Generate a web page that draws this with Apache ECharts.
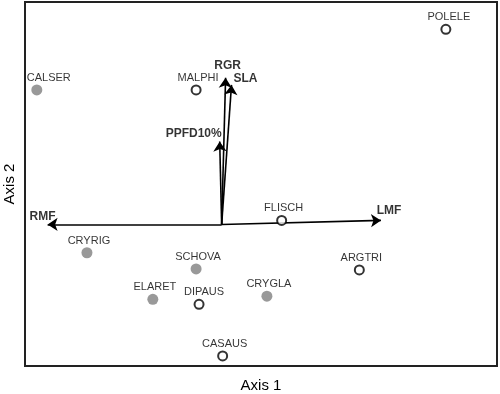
<!DOCTYPE html>
<html>
<head>
<meta charset="utf-8">
<script src="https://cdn.jsdelivr.net/npm/echarts@6/dist/echarts.min.js"></script>
<style>
  html, body { margin: 0; padding: 0; background: #fff; }
  #chart { width: 500px; height: 394px; }
</style>
</head>
<body>
<div id="chart"></div>
<script>
// species scores (axis 1, axis 2)
var filledNames = ['CALSER', 'CRYRIG', 'SCHOVA', 'ELARET', 'CRYGLA'];
var filledX = [-1.88, -1.37, -0.26, -0.70, 0.46];
var filledY = [1.33, -0.28, -0.44, -0.74, -0.71];

var openNames = ['POLELE', 'MALPHI', 'FLISCH', 'ARGTRI', 'DIPAUS', 'CASAUS'];
var openX = [2.28, -0.26, 0.61, 1.40, -0.23, 0.01];
var openY = [1.93, 1.33, 0.04, -0.45, -0.79, -1.30];

// trait vectors
var vectorNames = ['RGR', 'SLA', 'PPFD10%', 'RMF', 'LMF'];
var vectorX = [0.04, 0.10, -0.02, -1.77, 1.62];
var vectorY = [1.45, 1.38, 0.82, 0.00, 0.04];

var EnergyBiplot = function () {
    var txt = '#000';
    var fnt = '"Liberation Sans", Arial, Helvetica, sans-serif';

    // small nudges for some species labels
    var labelNudge = { CALSER: 12, DIPAUS: 5, POLELE: 3 };
    // where the vector labels sit
    var vecLabel = {
        'RGR': { position: 'top', distance: 6, offset: [2, 0] },
        'SLA': { position: 'right', distance: 2, offset: [0, -6] },
        'PPFD10%': { position: 'left', distance: 0, offset: [2, -8] },
        'RMF': { position: 'top', distance: 2, offset: [-5, 0] },
        'LMF': { position: 'top', distance: 4, offset: [8, 0] }
    };

    var makePoints = function (names, xs, ys) {
        var out = [];
        for (var i = 0; i < names.length; i++) {
            out.push({
                name: names[i],
                value: [xs[i], ys[i]],
                label: { offset: [labelNudge[names[i]] || 2, 0] }
            });
        }
        return out;
    };

    var _draw = function () {
        var dom = document.getElementById('chart');
        var chart = echarts.init(dom, null, { renderer: 'canvas' });

        var arrows = [];
        var tips = [];
        for (var i = 0; i < vectorNames.length; i++) {
            arrows.push({ coords: [[0, 0], [vectorX[i], vectorY[i]]] });
            var l = vecLabel[vectorNames[i]];
            tips.push({
                name: vectorNames[i],
                value: [vectorX[i], vectorY[i]],
                label: { position: l.position, distance: l.distance, offset: l.offset }
            });
        }

        var ptLabel = {
            show: true,
            position: 'top',
            distance: 1,
            formatter: '{b}',
            color: '#000',
            fontSize: 11,
            fontFamily: fnt
        };

        var option = {
            animation: false,
            backgroundColor: '#fff',
            grid: {
                left: 25, right: 3, top: 2, bottom: 28,
                outerBoundsMode: 'none',
                containLabel: false,
                show: true,
                borderColor: '#222',
                borderWidth: 2
            },
            xAxis: {
                type: 'value', min: -2, max: 2.8,
                name: 'Axis 1',
                nameLocation: 'middle',
                nameGap: 12,
                nameTextStyle: { fontSize: 15, color: txt, fontFamily: fnt },
                axisLine: { show: false },
                axisTick: { show: false },
                axisLabel: { show: false },
                splitLine: { show: false }
            },
            yAxis: {
                type: 'value', min: -1.4, max: 2.2,
                name: 'Axis 2',
                nameLocation: 'middle',
                nameGap: 8,
                nameTextStyle: { fontSize: 15, color: txt, fontFamily: fnt },
                axisLine: { show: false },
                axisTick: { show: false },
                axisLabel: { show: false },
                splitLine: { show: false }
            },
            series: [
                {
                    type: 'lines',
                    coordinateSystem: 'cartesian2d',
                    symbol: ['none', 'arrow'],
                    symbolSize: 10,
                    lineStyle: { color: '#000', width: 1.6, opacity: 1 },
                    data: arrows,
                    z: 2
                },
                {
                    type: 'scatter',
                    symbolSize: 0,
                    label: {
                        show: true,
                        formatter: '{b}',
                        color: '#000',
                        fontSize: 12,
                        fontWeight: 'bold',
                        fontFamily: fnt
                    },
                    data: tips,
                    z: 3
                },
                {
                    type: 'scatter',
                    symbol: 'circle',
                    symbolSize: 11,
                    itemStyle: { color: '#808080' },
                    label: ptLabel,
                    data: makePoints(filledNames, filledX, filledY),
                    z: 4
                },
                {
                    type: 'scatter',
                    symbol: 'circle',
                    symbolSize: 9,
                    itemStyle: { color: '#fff', borderColor: '#000', borderWidth: 2 },
                    label: ptLabel,
                    data: makePoints(openNames, openX, openY),
                    z: 4
                }
            ]
        };

        chart.setOption(option);
        window.addEventListener('resize', chart.resize);
    };

    return {
        init: function () {
            _draw();
        }
    };
}();

document.addEventListener('DOMContentLoaded', function () {
    EnergyBiplot.init();
});
</script>
</body>
</html>
